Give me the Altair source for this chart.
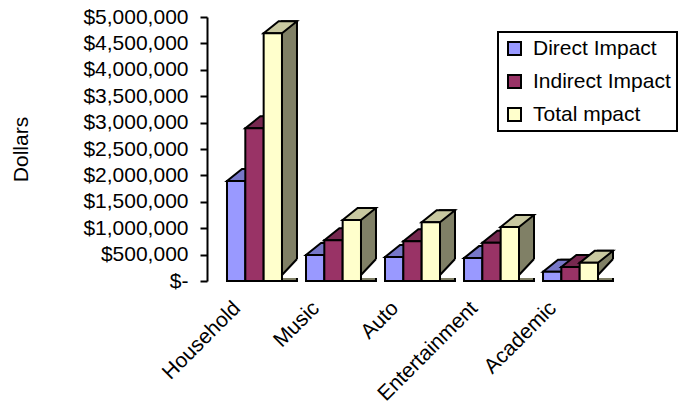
import altair as alt
import pandas as pd

# ---------------- data ----------------
categories = ["Household", "Music", "Auto", "Entertainment", "Academic"]
series_names = ["Direct Impact", "Indirect Impact", "Total mpact"]
direct_impact = [1780000, 380000, 340000, 320000, 60000]
indirect_impact = [2780000, 660000, 640000, 610000, 150000]
total_impact = [4580000, 1040000, 1000000, 910000, 230000]
y_tick_values = [0, 500000, 1000000, 1500000, 2000000, 2500000,
                 3000000, 3500000, 4000000, 4500000, 5000000]

front_colors = ["#9999FF", "#993366", "#FFFFCC"]
top_colors = ["#7777C8", "#772850", "#C8C8A0"]
side_colors = ["#4D4D80", "#4D1A33", "#808066"]

rows = []
for s, vals in zip(series_names, [direct_impact, indirect_impact, total_impact]):
    for c, v in zip(categories, vals):
        rows.append({"category": c, "series": s, "value": v})
df = pd.DataFrame(rows)

# ---------------- layout ----------------
FONT = "Liberation Sans"
FS = 21
PLOT_W, PLOT_H = 411, 264
PAD_IN, PAD_OUT = 0.304, 0.253
step = PLOT_W / (len(categories) - PAD_IN + 2 * PAD_OUT)
group_w = step * (1 - PAD_IN)
bar_w = group_w / 3
DX, DY_TOP, DY_BOT, LIFT = 15, 12, 16, 6
side_pi = 1 - DX / bar_w


def f(v):
    return f"{v:.2f}"


# symbol anchor sits at the left edge of each front face
top_path = (f"M 0 0 L {f(bar_w)} 0 L {f(bar_w + DX)} {-DY_TOP} "
            f"L {f(DX)} {-DY_TOP} Z")
cover_path = (f"M {f(bar_w)} 0 L {f(bar_w + DX)} {-DY_BOT} L {f(bar_w + DX + 3)} {-DY_BOT} "
              f"L {f(bar_w + DX + 3)} 3 L {f(bar_w - 2)} 3 L {f(bar_w - 2)} 0 Z")
diag_path = f"M {f(bar_w)} 0 L {f(bar_w + DX)} {-DY_BOT}"

x_axis = alt.Axis(title=None, labelAngle=315, domain=False, ticks=False, grid=False,
                  labelFontSize=FS, labelFont=FONT, labelColor="black",
                  labelOffset=-25, labelPadding=16, labelAlign="right",
                  labelBaseline="top")
y_axis = alt.Axis(title="Dollars", values=y_tick_values, grid=False,
                  labelExpr="datum.value == 0 ? '$-' : '$' + format(datum.value, ',')",
                  labelFontSize=FS, labelFont=FONT, labelColor="black",
                  domainColor="black", domainWidth=2, tickColor="black",
                  tickWidth=2, tickSize=7, labelPadding=12,
                  titleFontSize=FS, titleFont=FONT, titleFontWeight="normal",
                  titleColor="black", titleX=-186, titleY=132,
                  titleAlign="center", titleBaseline="middle", titleAngle=270)

x_scale = alt.Scale(domain=categories, paddingInner=PAD_IN, paddingOuter=PAD_OUT)
y_scale = alt.Scale(domain=[0, 5000000], nice=False, zero=True)

x_enc = alt.X("category:N", scale=x_scale, axis=x_axis, sort=categories)
y_val = alt.Y("value:Q", scale=y_scale, axis=y_axis, stack=None)
y_zero = alt.Y("zero:Q", scale=y_scale, axis=y_axis, stack=None)
xoff_front = alt.XOffset("series:N", scale=alt.Scale(type="band", domain=series_names,
                                                     paddingInner=0, paddingOuter=0))
xoff_point = alt.XOffset("series:N", scale=alt.Scale(type="point", domain=series_names,
                                                     padding=0, range=[0, 2 * bar_w]))
xoff_side = alt.XOffset("series:N", scale=alt.Scale(
    type="band", domain=series_names, range=[bar_w, bar_w + bar_w * (3 - side_pi)],
    paddingInner=side_pi, paddingOuter=0))

base = alt.Chart(df).transform_calculate(zero="0")

legend = alt.Legend(title=None, orient="none", legendX=291, legendY=15,
                    symbolType="square", symbolSize=169,
                    symbolStrokeColor="black", symbolStrokeWidth=2,
                    symbolOpacity=1, labelFontSize=FS, labelFont=FONT,
                    labelColor="black", rowPadding=11, padding=6,
                    labelOffset=8, strokeColor="black", fillColor="white")

layers = []
for i, s in enumerate(series_names):
    sb = base.transform_filter(alt.datum.series == s)
    side = sb.mark_bar(color=side_colors[i], stroke="black", strokeWidth=2,
                       opacity=1, yOffset=-(LIFT + DY_TOP), y2Offset=-LIFT).encode(
        x=x_enc, xOffset=xoff_side, y=y_val)
    cover = sb.mark_point(shape=cover_path, size=4, filled=True, fill="white",
                          strokeWidth=0, opacity=1, yOffset=-LIFT).encode(
        x=x_enc, xOffset=xoff_point, y=y_zero)
    diag = sb.mark_point(shape=diag_path, size=4, filled=False, stroke="black",
                         strokeWidth=2, opacity=1, yOffset=-LIFT).encode(
        x=x_enc, xOffset=xoff_point, y=y_zero)
    top = sb.mark_point(shape=top_path, size=4, filled=True, fill=top_colors[i],
                        stroke="black", strokeWidth=2, opacity=1,
                        yOffset=-LIFT).encode(
        x=x_enc, xOffset=xoff_point, y=y_val)
    front = sb.mark_bar(stroke="black", strokeWidth=2, opacity=1,
                        yOffset=-LIFT, y2Offset=-LIFT).encode(
        x=x_enc, xOffset=xoff_front, y=y_val,
        color=alt.Color("series:N",
                        scale=alt.Scale(domain=series_names, range=front_colors),
                        legend=legend))
    layers += [side, cover, diag, top, front]

chart = (
    alt.layer(*layers)
    .resolve_scale(xOffset="independent")
    .properties(
        width=PLOT_W, height=PLOT_H,
        autosize=alt.AutoSizeParams(type="none"),
        padding={"left": 207, "top": 17, "right": 62, "bottom": 127},
        background="white",
        view=alt.ViewBackground(stroke=None, strokeWidth=0, strokeOpacity=0),
    )
    .configure(
        font=FONT,
        view=alt.ViewConfig(stroke=None, strokeWidth=0, strokeOpacity=0),
        style={"cell": {"stroke": "transparent", "strokeWidth": 0, "strokeOpacity": 0}},
        axis=alt.AxisConfig(grid=False),
        legend=alt.LegendConfig(strokeWidth=2, strokeColor="black"),
    )
)

chart.save("out.html", embed_options={"renderer": "svg", "actions": False})
